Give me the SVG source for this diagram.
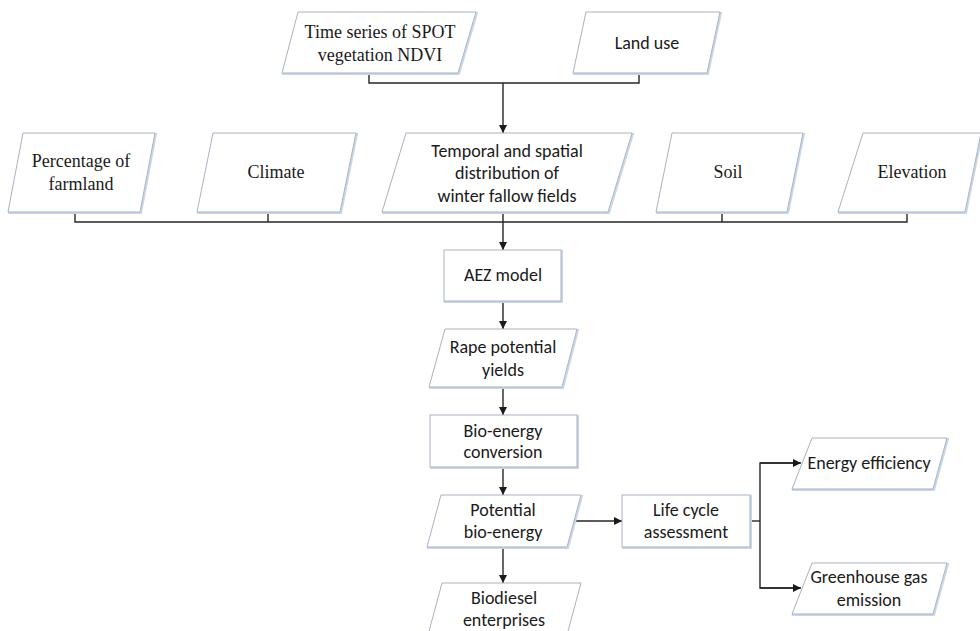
<svg xmlns="http://www.w3.org/2000/svg" width="980" height="631" viewBox="0 0 980 631">
<style>
.box{fill:#ffffff;stroke:#a9b3bf;stroke-width:1}
.sh{fill:none;stroke:#c9d7ea;stroke-width:2}
.ln{fill:none;stroke:#262626;stroke-width:1.4}
.serif{font-family:"Liberation Serif","Times New Roman",serif;font-size:18px;fill:#1a1a1a;text-anchor:middle;dominant-baseline:central}
.sans{font-family:Carlito,Lato,"Liberation Sans",sans-serif;font-size:18px;fill:#1a1a1a;text-anchor:middle;dominant-baseline:central}
</style>
<defs>
<marker id="ah" viewBox="0 0 10 10" refX="10" refY="5" markerWidth="8" markerHeight="8" markerUnits="userSpaceOnUse" orient="auto">
<path d="M0,0 L10,5 L0,10 z" fill="#1a1a1a"/>
</marker>
</defs>
<rect width="980" height="631" fill="#ffffff"/>

<g id="connectors">
<path class="ln" d="M369,73 V83 H639 V73"/>
<path class="ln" d="M503,83 V133" marker-end="url(#ah)"/>
<path class="ln" d="M75,212 V222 H907 V212"/>
<path class="ln" d="M268,212 V222"/>
<path class="ln" d="M503,212 V222"/>
<path class="ln" d="M722,212 V222"/>
<path class="ln" d="M503,222 V250" marker-end="url(#ah)"/>
<path class="ln" d="M503,301 V329" marker-end="url(#ah)"/>
<path class="ln" d="M503,387 V415" marker-end="url(#ah)"/>
<path class="ln" d="M503,467 V495" marker-end="url(#ah)"/>
<path class="ln" d="M503,547 V583" marker-end="url(#ah)"/>
<path class="ln" d="M574,521 H622" marker-end="url(#ah)"/>
<path class="ln" d="M750,521 H760"/>
<path class="ln" d="M800,463 H760 V588 H800" />
<path class="ln" d="M760,463 H801" marker-end="url(#ah)"/>
<path class="ln" d="M760,588 H801" marker-end="url(#ah)"/>
</g>

<g id="n-timeseries">
<polygon class="sh" points="299,13 477,13 459,74 283,74"/>
<polygon class="box" points="298,12 476,12 458,73 282,73"/>
<text class="serif" x="380" y="32">Time series of SPOT</text>
<text class="serif" x="380" y="55">vegetation NDVI</text>
</g>

<g id="n-landuse">
<polygon class="sh" points="587,13 721,13 708,74 574,74"/>
<polygon class="box" points="586,12 720,12 707,73 573,73"/>
<text class="sans" x="647" y="43">Land use</text>
</g>

<g id="n-percentage">
<polygon class="sh" points="24,134 156,134 141,213 9,213"/>
<polygon class="box" points="23,133 155,133 140,212 8,212"/>
<text class="serif" x="81" y="161">Percentage of</text>
<text class="serif" x="81" y="184">farmland</text>
</g>

<g id="n-climate">
<polygon class="sh" points="214,134 357,134 341,213 198,213"/>
<polygon class="box" points="213,133 356,133 340,212 197,212"/>
<text class="serif" x="276" y="172">Climate</text>
</g>

<g id="n-temporal">
<polygon class="sh" points="407,134 633,134 609,213 383,213"/>
<polygon class="box" points="406,133 632,133 608,212 382,212"/>
<text class="sans" x="507" y="151">Temporal and spatial</text>
<text class="sans" x="507" y="173">distribution of</text>
<text class="sans" x="507" y="196">winter fallow fields</text>
</g>

<g id="n-soil">
<polygon class="sh" points="673,134 804,134 788,213 657,213"/>
<polygon class="box" points="672,133 803,133 787,212 656,212"/>
<text class="serif" x="728" y="172">Soil</text>
</g>

<g id="n-elevation">
<polygon class="sh" points="864,134 982,134 966,213 839,213"/>
<polygon class="box" points="863,133 981,133 965,212 838,212"/>
<text class="serif" x="912" y="172">Elevation</text>
</g>

<g id="n-aez">
<rect class="sh" x="445" y="251" width="117" height="51"/>
<rect class="box" x="444" y="250" width="117" height="51"/>
<text class="sans" x="503" y="275">AEZ model</text>
</g>

<g id="n-rape">
<polygon class="sh" points="446,330 578,330 563,388 430,388"/>
<polygon class="box" points="445,329 577,329 562,387 429,387"/>
<text class="sans" x="503" y="347">Rape potential</text>
<text class="sans" x="503" y="370">yields</text>
</g>

<g id="n-bioconv">
<rect class="sh" x="431" y="416" width="147" height="52"/>
<rect class="box" x="430" y="415" width="147" height="52"/>
<text class="sans" x="503" y="431">Bio-energy</text>
<text class="sans" x="503" y="452">conversion</text>
</g>

<g id="n-potential">
<polygon class="sh" points="442,496 582,496 568,548 428,548"/>
<polygon class="box" points="441,495 581,495 567,547 427,547"/>
<text class="sans" x="503" y="510">Potential</text>
<text class="sans" x="503" y="532">bio-energy</text>
</g>

<g id="n-lca">
<rect class="sh" x="623" y="496" width="128" height="52"/>
<rect class="box" x="622" y="495" width="128" height="52"/>
<text class="sans" x="686" y="510">Life cycle</text>
<text class="sans" x="686" y="532">assessment</text>
</g>

<g id="n-biodiesel">
<polygon class="box" points="442,583 581,583 567,635 428,635"/>
<text class="sans" x="504" y="598">Biodiesel</text>
<text class="sans" x="504" y="620">enterprises</text>
</g>

<g id="n-efficiency">
<polygon class="sh" points="813,439 948,439 934,490 793,490"/>
<polygon class="box" points="812,438 947,438 933,489 792,489"/>
<text class="sans" x="869" y="463">Energy efficiency</text>
</g>

<g id="n-ghg">
<polygon class="sh" points="813,564 948,564 934,615 793,615"/>
<polygon class="box" points="812,563 947,563 933,614 792,614"/>
<text class="sans" x="869" y="577">Greenhouse gas</text>
<text class="sans" x="869" y="600">emission</text>
</g>
</svg>
